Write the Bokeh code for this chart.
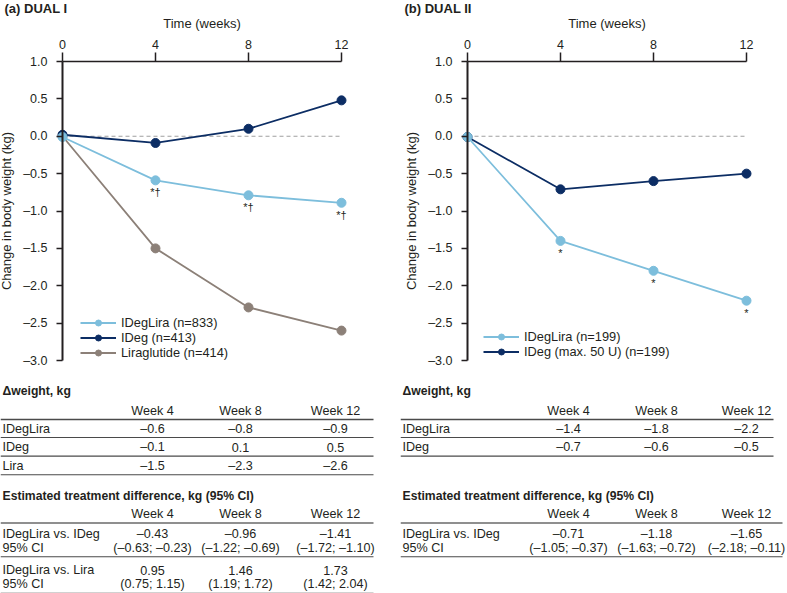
from bokeh.plotting import figure
from bokeh.models import (Range1d, LinearAxis, FixedTicker, CustomJSTickFormatter,
                          Label, Legend, LegendItem)
from bokeh.layouts import row
from bokeh.core.properties import value
from bokeh.embed import file_html
from bokeh.resources import INLINE

# ---------------- data ----------------
weeks = [0, 4, 8, 12]
y_ticks = [-3.0, -2.5, -2.0, -1.5, -1.0, -0.5, 0.0, 0.5, 1.0]

# (a) DUAL I - change in body weight (kg)
dual1_idegLira = [-0.01, -0.59, -0.79, -0.89]
dual1_ideg = [0.02, -0.09, 0.10, 0.48]
dual1_lira = [0.00, -1.50, -2.29, -2.60]
dual1_labels = ["IDegLira (n=833)", "IDeg (n=413)", "Liraglutide (n=414)"]

# (b) DUAL II
dual2_idegLira = [-0.01, -1.40, -1.80, -2.20]
dual2_ideg = [-0.01, -0.71, -0.60, -0.50]
dual2_labels = ["IDegLira (n=199)", "IDeg (max. 50 U) (n=199)"]

week_labels = ["Week 4", "Week 8", "Week 12"]

# tables DUAL I
d1_rows = ["IDegLira", "IDeg", "Lira"]
d1_vals = [[-0.6, -0.8, -0.9], [-0.1, 0.1, 0.5], [-1.5, -2.3, -2.6]]
d1_etd_rows = ["IDegLira vs. IDeg", "IDegLira vs. Lira"]
d1_etd = [[-0.43, -0.96, -1.41], [0.95, 1.46, 1.73]]
d1_ci_lo = [[-0.63, -1.22, -1.72], [0.75, 1.19, 1.42]]
d1_ci_hi = [[-0.23, -0.69, -1.10], [1.15, 1.72, 2.04]]

# tables DUAL II
d2_rows = ["IDegLira", "IDeg"]
d2_vals = [[-1.4, -1.8, -2.2], [-0.7, -0.6, -0.5]]
d2_etd_rows = ["IDegLira vs. IDeg"]
d2_etd = [[-0.71, -1.18, -1.65]]
d2_ci_lo = [[-1.05, -1.63, -2.18]]
d2_ci_hi = [[-0.37, -0.72, -0.11]]

# ---------------- style / layout ----------------
FONT = "Liberation Sans"
INK = "#231f20"
C_IDL = "#7dbedc"
C_IDEG = "#0c2d64"
C_LIRA = "#8c8078"
DASH = "\u2013"

FIG_H = 593
KX = 279 / 12      # px per week
KY = 299 / 4       # px per kg
TOP_PX = 61        # pixel row of the top (time) axis


def fmt(v, d):
    s = f"{abs(v):.{d}f}"
    return DASH + s if v < 0 else s


def make_panel(width, x0_px, title, series, star_series, star_text, legend_loc,
               x_text, col_x, line1_end, line2_end, rows, vals, etd_rows, etd, lo, hi):
    ytop = y_ticks[-1]
    X = lambda px: (px - x0_px) / KX
    Y = lambda py: ytop + (TOP_PX - py) / KY

    p = figure(width=width, height=FIG_H, output_backend="svg", toolbar_location=None,
               x_range=Range1d(X(0), X(width)), y_range=Range1d(Y(FIG_H), Y(0)),
               x_axis_location=None, y_axis_location=None, min_border=0,
               outline_line_color=None, background_fill_color="white")
    p.grid.visible = False

    xa = LinearAxis(fixed_location=ytop, ticker=FixedTicker(ticks=weeks),
                    bounds=(weeks[0], weeks[-1]), axis_label="Time (weeks)",
                    major_tick_in=0, major_tick_out=9, minor_tick_in=0, minor_tick_out=0,
                    major_label_standoff=4, axis_label_standoff=6,
                    axis_line_width=1.5, axis_line_color=INK,
                    major_tick_line_width=1.5, major_tick_line_color=INK,
                    major_label_text_font=FONT, major_label_text_font_size="12.5px",
                    major_label_text_color=INK,
                    axis_label_text_font=FONT, axis_label_text_font_size="13px",
                    axis_label_text_font_style="normal", axis_label_text_color=INK)
    p.add_layout(xa, "above")

    ya = LinearAxis(fixed_location=weeks[0], ticker=FixedTicker(ticks=y_ticks),
                    bounds=(y_ticks[0], y_ticks[-1]),
                    formatter=CustomJSTickFormatter(
                        code="const s = Math.abs(tick).toFixed(1); return tick < 0 ? '\u2013' + s : s;"),
                    axis_label="Change in body weight (kg)",
                    major_tick_in=0, major_tick_out=6, minor_tick_in=0, minor_tick_out=0,
                    major_label_standoff=9, axis_label_standoff=6,
                    axis_line_width=2, axis_line_color=INK,
                    major_tick_line_width=1.5, major_tick_line_color=INK,
                    major_label_text_font=FONT, major_label_text_font_size="12.5px",
                    major_label_text_color=INK,
                    axis_label_text_font=FONT, axis_label_text_font_size="13px",
                    axis_label_text_font_style="normal", axis_label_text_color=INK)
    p.add_layout(ya, "left")

    # zero reference line
    p.segment(x0=[weeks[0]], x1=[weeks[-1]], y0=[0], y1=[0],
              line_color="#a0a0a0", line_width=1.2, line_dash="4 3")

    rends = {}
    for ys, col, lab in reversed(series):
        l = p.line(weeks, ys, line_color=col, line_width=1.8)
        c = p.scatter(weeks, ys, marker="circle", size=9, fill_color=col, line_color=col)
        rends[lab] = [l, c]
    items = [LegendItem(label=lab, renderers=rends[lab]) for ys, col, lab in series]

    p.text(x=weeks[1:], y=star_series[1:], text=[star_text] * (len(weeks) - 1),
           text_align="center", text_baseline="middle", y_offset=12,
           text_font=value(FONT), text_font_size="11px", text_color=INK)

    leg = Legend(items=items, location=legend_loc, padding=0, margin=0, spacing=0,
                 glyph_width=36, glyph_height=15, label_height=15, label_standoff=5,
                 label_text_font=FONT, label_text_font_size="12.8px", label_text_color=INK,
                 background_fill_alpha=0, border_line_alpha=0)
    p.add_layout(leg)

    p.add_layout(Label(x=X(4), y=Y(8), text=title, text_font=FONT, text_font_size="13px",
                       text_font_style="bold", text_baseline="middle", text_color=INK))

    # ---------------- tables ----------------
    def txt(pxs, py, texts, align="left", bold=False):
        t = p.text(x=[X(v) for v in pxs], y=[Y(py)] * len(pxs), text=texts,
                   text_align=align, text_baseline="middle",
                   text_font=value(FONT), text_font_size="12.2px" if bold else "12.6px",
                   text_font_style="bold" if bold else "normal", text_color=INK)
        return t

    def hline(py, x_end, color="#4a4a4a", w=1.1):
        p.segment(x0=[X(0)], x1=[X(x_end)], y0=[Y(py)], y1=[Y(py)],
                  line_color=color, line_width=w)

    txt([x_text], 390, ["\u0394weight, kg"], bold=True)
    txt(col_x, 410.5, week_labels, align="center")
    hline(419, line1_end, w=1.4)
    for i, (name, vv) in enumerate(zip(rows, vals)):
        ry = 428 + i * 18.6
        txt([x_text], ry, [name])
        txt(col_x, ry, [fmt(v, 1) for v in vv], align="center")
        hline(ry + 9, line1_end)

    txt([x_text], 495, ["Estimated treatment difference, kg (95% CI)"], bold=True)
    txt(col_x, 513, week_labels, align="center")
    hline(522.5, line2_end, color="#6a6a6a", w=1.6)
    for i, name in enumerate(etd_rows):
        ry = 533.3 + i * 36.5
        txt([x_text], ry, [name])
        txt(col_x, ry, [fmt(v, 2) for v in etd[i]], align="center")
        txt([x_text], ry + 14, ["95% CI"])
        txt(col_x, ry + 14, [f"({fmt(a, 2)}; {fmt(b, 2)})" for a, b in zip(lo[i], hi[i])],
            align="center")
        hline(ry + 23, line2_end)
    return p


panel1 = make_panel(400, 62, "(a) DUAL I",
                    [(dual1_idegLira, C_IDL, dual1_labels[0]),
                     (dual1_ideg, C_IDEG, dual1_labels[1]),
                     (dual1_lira, C_LIRA, dual1_labels[2])],
                    dual1_idegLira, "*\u2020", (80, 233),
                    2, [152, 240, 335], 373, 373,
                    d1_rows, d1_vals, d1_etd_rows, d1_etd, d1_ci_lo, d1_ci_hi)

panel2 = make_panel(387, 67, "(b) DUAL II",
                    [(dual2_idegLira, C_IDL, dual2_labels[0]),
                     (dual2_ideg, C_IDEG, dual2_labels[1])],
                    dual2_idegLira, "*", (83, 234),
                    2, [168, 256, 346], 373, 382,
                    d2_rows, d2_vals, d2_etd_rows, d2_etd, d2_ci_lo, d2_ci_hi)

layout = row(panel1, panel2)

open("out.html", "w").write(file_html(layout, INLINE))
